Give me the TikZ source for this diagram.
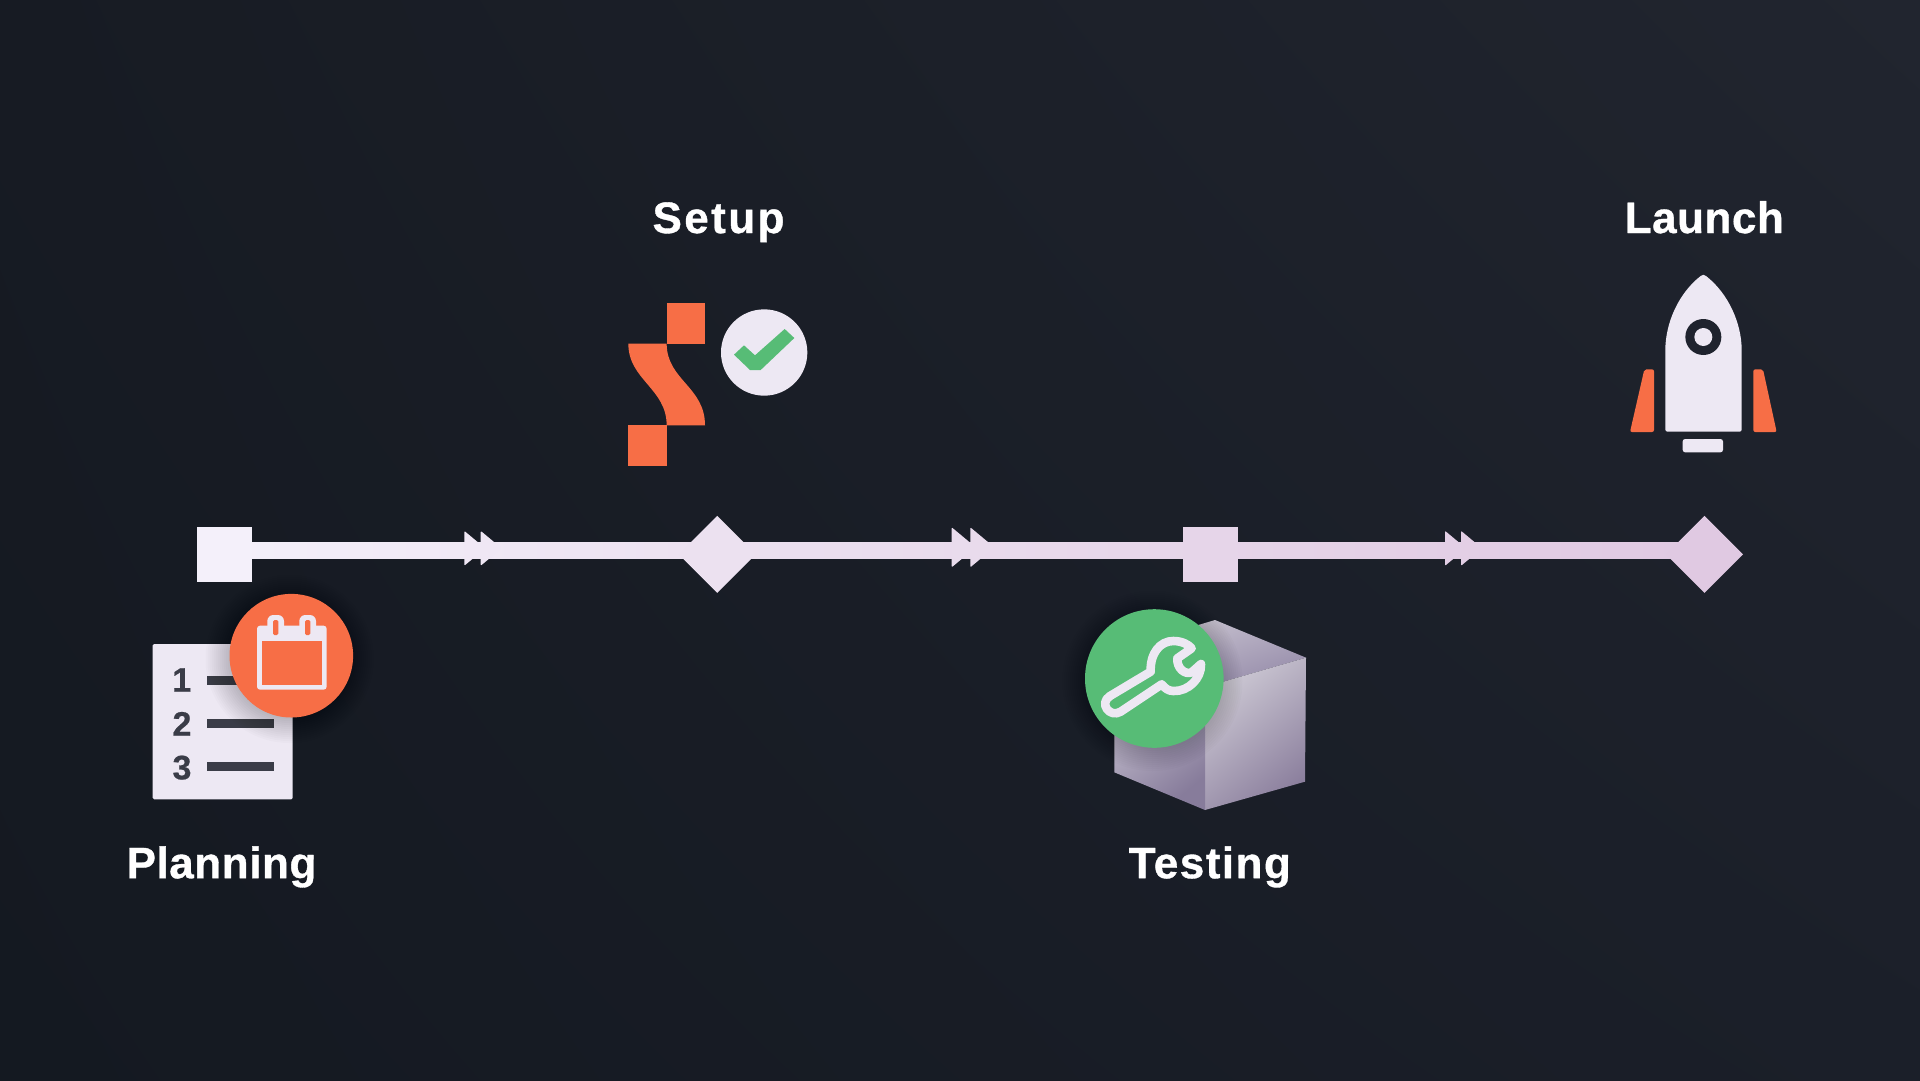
\documentclass[tikz,border=0pt]{standalone}
\usepackage{fontspec}
\setmainfont{Liberation Sans}
\usetikzlibrary{shapes.geometric,calc,shadings}
\definecolor{railA}{HTML}{F4F0FA}
\definecolor{railB}{HTML}{ECE1F0}
\definecolor{railC}{HTML}{E6D5E9}
\definecolor{railD}{HTML}{E0C9E2}
\definecolor{paper}{HTML}{EDE8F3}
\definecolor{orangeX}{HTML}{F76E46}
\definecolor{greenX}{HTML}{57BC76}
\definecolor{inkX}{HTML}{3A3C47}
\definecolor{darkX}{HTML}{1F232E}
\definecolor{bgUL}{RGB}{23,27,35}
\definecolor{bgUR}{RGB}{33,37,47}
\definecolor{bgLL}{RGB}{20,25,33}
\definecolor{bgLR}{RGB}{27,31,41}
\definecolor{cubeA}{RGB}{205,200,212}
\definecolor{cubeB}{RGB}{150,140,170}
\definecolor{cubeC}{RGB}{206,202,213}
\definecolor{cubeD}{RGB}{208,204,215}
\definecolor{cubeE}{RGB}{140,128,158}
\definecolor{cubeF}{RGB}{208,204,216}
\definecolor{cubeG}{RGB}{135,124,155}
\tikzset{
  stopsq/.style={rectangle,minimum size=55pt,inner sep=0pt,outer sep=0pt},
  stopdm/.style={diamond,aspect=1,minimum size=77pt,inner sep=0pt,outer sep=0pt},
  railbase/.style={line width=16pt},
  label/.style={inner sep=0pt,outer sep=0pt,anchor=base,text=white,font=\fontsize{44}{50}\selectfont\bfseries},
  digit/.style={inner sep=0pt,outer sep=0pt,anchor=base,text=inkX,font=\fontsize{34}{36}\selectfont\bfseries\addfontfeature{FakeBold=0.6}},
  orange/.style={fill=orangeX},
  sheet/.style={fill=paper},
}
\newcommand{\softshadow}[3]{%
  \foreach \i in {0,2,...,24}{\fill[black,opacity=0.014] (#1,#2) circle ({#3+\i});}}
\newcommand{\chevron}[4]{% x, y, half height, colour
  \fill[#4,rounded corners=1pt] (#1,#2-#3) -- ({#1+1.2*#3},#2) -- (#1,#2+#3) -- cycle;}
\begin{document}
\begin{tikzpicture}[x=1pt,y=-1pt]
\useasboundingbox (0,0) rectangle (1920,1080);
\shade[upper left=bgUL,upper right=bgUR,lower left=bgLL,lower right=bgLR]
  (0,0) rectangle (1920,1080);

% stops
\coordinate (r0) at (224.5,550);
\coordinate (r1) at (717.3,550);
\coordinate (r2) at (1210.5,550);
\coordinate (r3) at (1704.5,550);
\draw[railbase,draw=railA!50!railB] (r0) -- (r1);
\draw[railbase,draw=railB!50!railC] (r1) -- (r2);
\draw[railbase,draw=railC!50!railD] (r2) -- (r3);
\shade[left color=railA,right color=railB] ($(r0)+(0,-8)$) rectangle ($(r1)+(0,8)$);
\shade[left color=railB,right color=railC] ($(r1)+(0,-8)$) rectangle ($(r2)+(0,8)$);
\shade[left color=railC,right color=railD] ($(r2)+(0,-8)$) rectangle ($(r3)+(0,8)$);
\chevron{464.3}{548.3}{17.4}{railA!45!railB}
\chevron{480.7}{548.3}{17.4}{railA!40!railB}
\chevron{951.7}{547.3}{20}{railB!55!railC}
\chevron{970.3}{547.3}{20}{railB!50!railC}
\chevron{1445}{548.3}{17.5}{railC!52!railD}
\chevron{1461}{548.3}{17.5}{railC!48!railD}
\node[stopsq,fill=railA] (start) at (224.5,554.4) {};
\node[stopdm,fill=railB] (setup) at (717.3,554.4) {};
\node[stopsq,fill=railC] (test) at (1210.5,554.4) {};
\node[stopdm,fill=railD] (launch) at (1704.5,554.4) {};

% labels
\node[label] (lsetup) at (718.5,233) {\addfontfeature{LetterSpace=5.5,FakeBold=0.8}Setup};
\node[label] (lplan) at (221.5,878.2) {\addfontfeature{LetterSpace=1.3,FakeBold=0.8}Planning};
\node[label] (ltest) at (1209.8,878.2) {\addfontfeature{LetterSpace=3.4,FakeBold=0.8}Testing};
\node[label] (llaunch) at (1704.3,233) {\addfontfeature{LetterSpace=1.2,FakeBold=0.8}Launch};

% planning icon
\fill[sheet,rounded corners=1.5pt] (152.7,644) rectangle (292.7,799.3);
\node[digit] (d1) at (181.7,691.7) {1};
\node[digit] (d2) at (182,735.7) {2};
\node[digit] (d3) at (182,779.3) {3};
\fill[inkX] (207,675.7) rectangle (274,685);
\fill[inkX] (207,719) rectangle (274,728.3);
\fill[inkX] (207,762) rectangle (274,771.3);
\softshadow{289.5}{659}{60}
\fill[orange] (291.3,655.7) circle (61.8);
\begin{scope}[shift={(110,500)},scale=1/3]
  \fill[sheet,rounded corners=6pt] (472,400) -- (472,345) -- (522,345) -- (522,400) -- cycle;
  \fill[sheet,rounded corners=6pt] (568,400) -- (568,345) -- (618,345) -- (618,400) -- cycle;
  \fill[sheet,rounded corners=3pt] (441,377) rectangle (650,569);
  \fill[orange] (456,424) rectangle (636,554);
  \fill[orange,rounded corners=1.5pt] (489,360) rectangle (505,405);
  \fill[orange,rounded corners=1.5pt] (585,360) rectangle (601,405);
\end{scope}

% setup icon
\begin{scope}[shift={(600,280)},scale=1/3]
  \fill[orange] (200,69) rectangle (315,191);
  \fill[orange] (85,436) rectangle (200,558);
  \fill[orange] (85,191) -- (200,191)
     .. controls (200,300) and (315,320) .. (315,436)
     -- (200,436)
     .. controls (200,325) and (85,300) .. (85,191) -- cycle;
  \fill[sheet] (492.5,217.5) circle (129.5);
  \fill[greenX] (402,224) -- (432,196) -- (465,226) -- (554,147) -- (583,174) -- (482,270) -- (450,270) -- cycle;
\end{scope}

% testing icon
\begin{scope}[shift={(1060,590)},scale=1/3]
  \shade[top color=cubeA,bottom color=cubeB,shading angle=20]
     (465,90) -- (738,203) -- (435,291) -- (163,180) -- cycle;
  \shade[top color=cubeC,middle color=cubeD,bottom color=cubeE,shading angle=40]
     (738,203) -- (735,575) -- (435,660) -- (435,291) -- cycle;
  \shade[top color=cubeF,bottom color=cubeG,shading angle=40]
     (163,180) -- (435,291) -- (435,660) -- (163,547) -- cycle;
\end{scope}
\softshadow{1152.5}{681}{66}
\fill[greenX] (1154.3,678.5) circle (69.3);
\begin{scope}[shift={(1060,590)},scale=1/3]
  \draw[paper,line width=8.6pt,line join=round]
    (150,318) -- (272,245)
    .. controls (270,190) and (300,153) .. (340,153)
    .. controls (365,153) and (385,163) .. (395,175)
    -- (352,205)
    .. controls (350,235) and (375,255) .. (395,247)
    -- (423,222)
    .. controls (425,265) and (385,305) .. (340,303)
    .. controls (325,303) and (315,295) .. (305,283)
    -- (182,365)
    .. controls (150,385) and (115,340) .. (150,318) -- cycle;
\end{scope}

% launch icon
\begin{scope}[shift={(1610,260)},scale=1/3]
  \fill[sheet] (272,48) .. controls (277,43) and (283,43) .. (288,48)
     .. controls (355,100) and (395,190) .. (395,270)
     -- (395,508) .. controls (395,513) and (393,515) .. (388,515)
     -- (173,515) .. controls (168,515) and (166,513) .. (166,508)
     -- (166,270)
     .. controls (166,190) and (205,100) .. (272,48) -- cycle;
  \fill[darkX] (280,231) circle (54);
  \fill[sheet] (280,231) circle (27);
  \fill[sheet,rounded corners=2.5pt] (218,537) rectangle (339,577);
  \fill[orange,rounded corners=2pt] (103,328) -- (132,328) -- (132,516) -- (60,516) -- cycle;
  \fill[orange,rounded corners=2pt] (430,328) -- (459,328) -- (500,516) -- (430,516) -- cycle;
\end{scope}
\end{tikzpicture}
\end{document}
